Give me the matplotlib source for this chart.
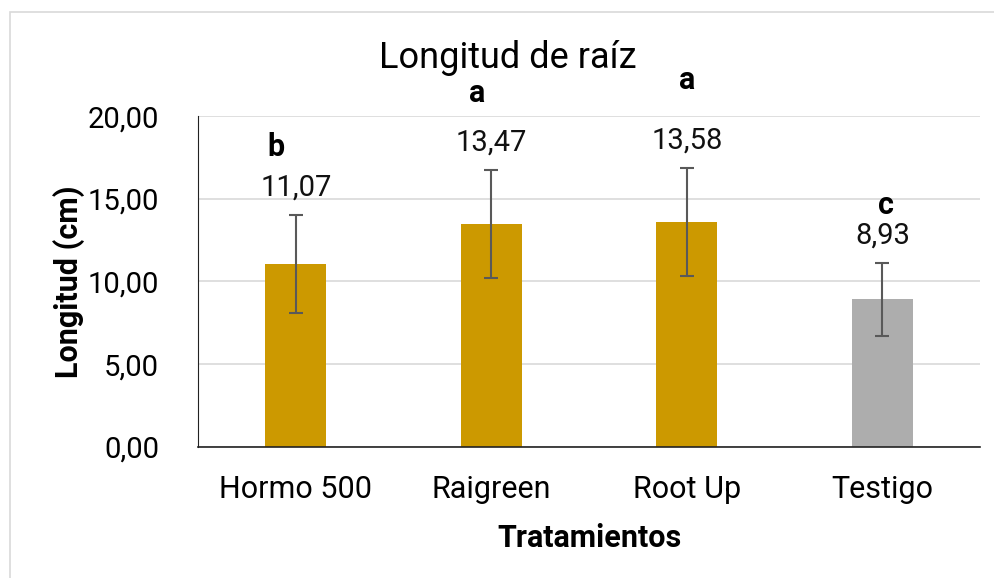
import matplotlib
matplotlib.use("Agg")
import matplotlib.pyplot as plt
from matplotlib.patches import Rectangle

plt.rcParams['font.family'] = ['Roboto', 'DejaVu Sans']

tratamientos = ["Hormo 500", "Raigreen", "Root Up", "Testigo"]
longitud = [11.07, 13.47, 13.58, 8.93]
error = [2.97, 3.27, 3.27, 2.2]
letras = ["b", "a", "a", "c"]
letra_y = [18.16, 21.4, 22.2, 14.65]
letra_dx = [-0.1, -0.07, 0.0, 0.02]
colores = ["#CC9900", "#CC9900", "#CC9900", "#ADADAD"]

fig = plt.figure(figsize=(9.95, 5.78), dpi=100)
fig.patches.append(Rectangle((10 / 995, -0.1), 1.2, 1 - 12 / 578 + 0.1,
                             transform=fig.transFigure, fill=False,
                             edgecolor="#d9d9d9", linewidth=1.2))
ax = fig.add_axes([0.199, 0.227, 0.786, 0.572])

x = range(len(tratamientos))
ax.bar(x, longitud, width=0.31, color=colores, zorder=2)
ax.errorbar(x, longitud, yerr=error, fmt="none", ecolor="#595959",
            elinewidth=1.5, capsize=5, capthick=1.5, zorder=3)

for i in x:
    ax.text(i, longitud[i] + error[i] + 1.65, f"{longitud[i]:.2f}".replace(".", ","),
            ha="center", va="center", fontsize=21, color="#111111")
    ax.text(i + letra_dx[i], letra_y[i], letras[i], ha="center", va="center",
            fontsize=22, fontweight="bold", clip_on=False)

ax.set_xlim(-0.5, 3.5)
ax.set_ylim(0, 20)
ax.set_yticks([0, 5, 10, 15, 20])
ax.set_yticklabels([f"{v:.2f}".replace(".", ",") for v in [0, 5, 10, 15, 20]])
ax.set_xticks(list(x))
ax.set_xticklabels(tratamientos)
ax.tick_params(axis="y", length=0, labelsize=21, pad=28)
ax.tick_params(axis="x", length=0, labelsize=22, pad=20)
ax.grid(axis="y", color="#d9d9d9", linewidth=1.2, zorder=0)
ax.set_axisbelow(True)
for s in ["top", "right"]:
    ax.spines[s].set_visible(False)
ax.spines["left"].set_color("#222222")
ax.spines["bottom"].set_color("#222222")
ax.spines["bottom"].set_linewidth(1.2)

ax.set_ylabel("Longitud (cm)", fontsize=22, fontweight="bold", labelpad=2)
ax.set_xlabel("Tratamientos", fontsize=22, fontweight="bold", labelpad=14)
fig.text(508 / 995, 1 - 58 / 578, "Longitud de raíz", ha="center", va="center",
         fontsize=26)

fig.savefig("out.png", dpi=100)
